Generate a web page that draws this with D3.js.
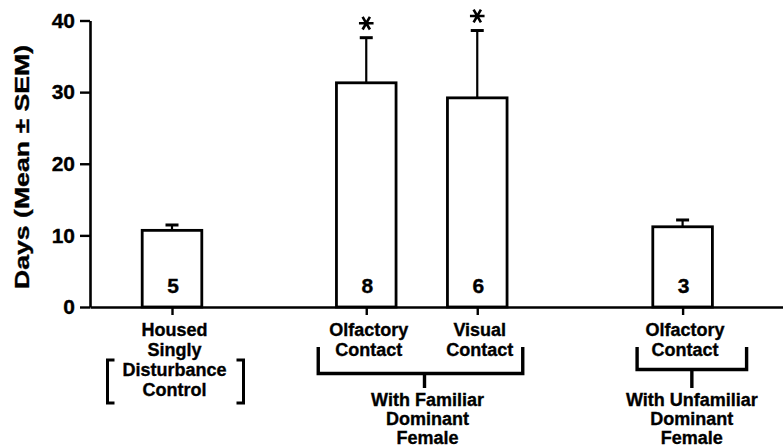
<!DOCTYPE html>
<html>
<head>
<meta charset="utf-8">
<script src="https://cdn.jsdelivr.net/npm/d3@7/dist/d3.min.js"></script>
<style>
  html, body { margin: 0; padding: 0; background: #fff; }
  svg { display: block; }
  text { font-family: "Liberation Sans", Arial, Helvetica, sans-serif; font-weight: bold; fill: #000;
         stroke: #000; stroke-width: 0.35px; }
</style>
</head>
<body>
<svg id="chart" width="783" height="447"></svg>
<script>
// Days to reach criterion, by housing condition
const groups     = ["Housed Singly", "Olfactory (familiar)", "Visual (familiar)", "Olfactory (unfamiliar)"];
const meanDays   = [10.7, 31.3, 29.2, 11.2];
const semDays    = [0.75, 6.3, 9.4, 0.95];
const sampleN    = [5, 8, 6, 3];
const significant = [false, true, true, false];
const barLabels  = [
  ["Housed", "Singly", "Disturbance", "Control"],
  ["Olfactory", "Contact"],
  ["Visual", "Contact"],
  ["Olfactory", "Contact"]
];
const yTicks     = [0, 10, 20, 30, 40];
const yTitle     = "Days (Mean \u00B1 SEM)";
const femaleGroups = [
  { members: [1, 2], lines: ["With Familiar", "Dominant", "Female"] },
  { members: [3],    lines: ["With Unfamiliar", "Dominant", "Female"] }
];

// ---- layout ----
const svg = d3.select("#chart");
const slot = [0, 1.75, 2.75, 4.6];            // horizontal placement of each bar
const axisX = 90, axisY = 307, topY = 20.5;
const unit = 111;

const x = d3.scaleLinear()
  .domain([(axisX - 172) / unit, (783 - 172) / unit])
  .range([axisX, 783]);
const y = d3.scaleLinear().domain([0, 40]).range([axisY, topY]);
const barW = 0.537 * unit;

// y axis
const yAxis = svg.append("g")
  .attr("transform", `translate(${axisX},0)`)
  .call(d3.axisLeft(y).tickValues(yTicks).tickSize(10).tickSizeOuter(0).tickPadding(5));
yAxis.select(".domain").attr("stroke", "#000").attr("stroke-width", 2.6);
yAxis.selectAll(".tick line").attr("stroke", "#000").attr("stroke-width", 2.4);
yAxis.selectAll(".tick text")
  .attr("font-size", 21).attr("font-weight", "bold")
  .attr("font-family", "Liberation Sans, Arial, sans-serif")
  .attr("fill", "#000");

// x axis
const xAxis = svg.append("g")
  .attr("transform", `translate(0,${axisY})`)
  .call(d3.axisBottom(x).tickValues(slot).tickSize(8).tickSizeOuter(0).tickFormat(""));
xAxis.select(".domain").attr("stroke", "#000").attr("stroke-width", 2.6);
xAxis.selectAll(".tick line").attr("stroke", "#000").attr("stroke-width", 2.4);

// y title
svg.append("text")
  .attr("transform", `translate(29,167) rotate(-90)`)
  .attr("text-anchor", "middle")
  .attr("font-size", 21)
  .attr("textLength", 244)
  .attr("lengthAdjust", "spacingAndGlyphs")
  .text(yTitle);

const rows = groups.map((g, i) => ({
  g, i, mean: meanDays[i], sem: semDays[i], n: sampleN[i], sig: significant[i], cx: x(slot[i])
}));

// error bars (drawn beneath bars)
const err = svg.append("g");
err.selectAll("line.stem").data(rows).join("line")
  .attr("x1", d => d.cx).attr("x2", d => d.cx)
  .attr("y1", d => y(d.mean)).attr("y2", d => y(d.mean + d.sem))
  .attr("stroke", "#000").attr("stroke-width", 2.2);
err.selectAll("line.cap").data(rows).join("line")
  .attr("x1", d => d.cx - 6.5).attr("x2", d => d.cx + 6.5)
  .attr("y1", d => y(d.mean + d.sem)).attr("y2", d => y(d.mean + d.sem))
  .attr("stroke", "#000").attr("stroke-width", 3);

// bars
svg.append("g").selectAll("rect").data(rows).join("rect")
  .attr("x", d => d.cx - barW / 2)
  .attr("y", d => y(d.mean))
  .attr("width", barW)
  .attr("height", d => y(0) - y(d.mean))
  .attr("fill", "#fff")
  .attr("stroke", "#000")
  .attr("stroke-width", 2.8);

// sample sizes inside bars
svg.append("g").selectAll("text").data(rows).join("text")
  .attr("x", d => d.cx + 1)
  .attr("y", y(0) - 14)
  .attr("text-anchor", "middle")
  .attr("font-size", 21)
  .text(d => d.n);

// significance markers
const star = d3.symbol().type(d3.symbolAsterisk).size(150);
svg.append("g").selectAll("path").data(rows.filter(d => d.sig)).join("path")
  .attr("d", star)
  .attr("transform", d => `translate(${d.cx},${y(d.mean + d.sem) - 14.5}) rotate(90)`)
  .attr("fill", "none")
  .attr("stroke", "#000")
  .attr("stroke-width", 2.6);

// category labels
const labelG = svg.append("g");
rows.forEach(d => {
  barLabels[d.i].forEach((line, k) => {
    labelG.append("text")
      .attr("x", d.cx + 2.5)
      .attr("y", 336 + k * 20)
      .attr("text-anchor", "middle")
      .attr("font-size", 18)
      .text(line);
  });
});

// square brackets round "Disturbance Control"
{
  const cx = rows[0].cx + 3.5, half = 68, arm = 7, top = 360, bot = 403;
  const sq = svg.append("g").attr("fill", "none").attr("stroke", "#000").attr("stroke-width", 3);
  sq.append("path").attr("d", `M${cx - half + arm},${top} H${cx - half} V${bot} H${cx - half + arm}`);
  sq.append("path").attr("d", `M${cx + half - arm},${top} H${cx + half} V${bot} H${cx + half - arm}`);
}

// grouping brackets under the contact conditions
const bracketSpec = [
  { padL: 48, padR: 45.5, bar: 373.5 },
  { padL: 45.5, padR: 64, bar: 369.5 }
];
femaleGroups.forEach((grp, gi) => {
  const spec = bracketSpec[gi];
  const xs = grp.members.map(i => rows[i].cx);
  const left = d3.min(xs) - spec.padL, right = d3.max(xs) + spec.padR;
  const mid = (left + right) / 2 + (gi === 0 ? 4 : 0);
  const b = svg.append("g").attr("fill", "none").attr("stroke", "#000");
  b.append("path")
    .attr("d", `M${left},347 V${spec.bar} H${right} V347`)
    .attr("stroke-width", 3.4);
  b.append("line")
    .attr("x1", mid).attr("x2", mid)
    .attr("y1", spec.bar).attr("y2", 388)
    .attr("stroke-width", 3.4);
  grp.lines.forEach((line, k) => {
    svg.append("text")
      .attr("x", mid + (gi === 0 ? 3 : 0))
      .attr("y", 406 + k * 19)
      .attr("text-anchor", "middle")
      .attr("font-size", 18)
      .text(line);
  });
});
</script>
</body>
</html>
